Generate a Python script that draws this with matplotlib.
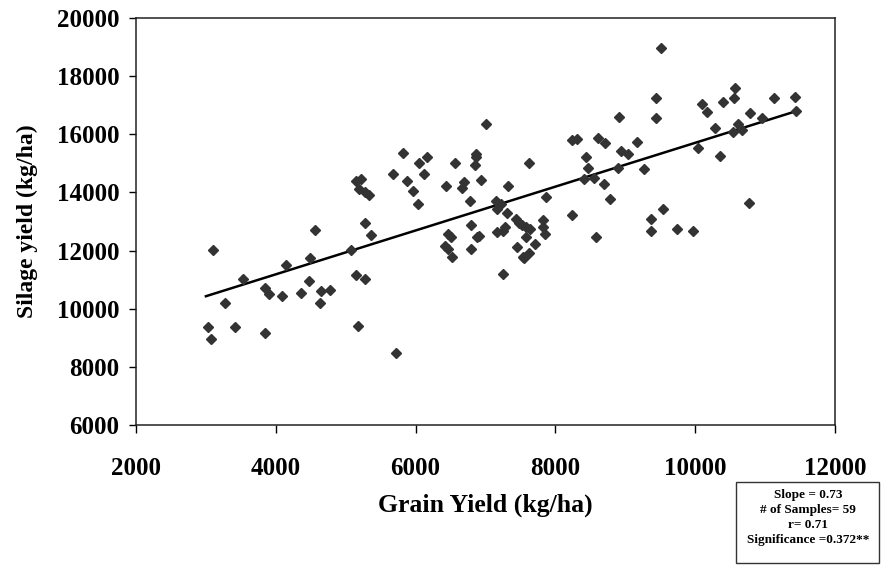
import matplotlib
matplotlib.use("Agg")
import matplotlib.pyplot as plt
from matplotlib.patches import Rectangle

plt.rcParams['font.family'] = ['Liberation Serif', 'DejaVu Serif']
plt.rcParams['font.weight'] = 'bold'

#### DATA
grain_yield = [
    3031, 3070, 3103, 3274, 3417, 3531, 3845, 3840, 3897, 4083,
    4144, 4354, 4477, 4496, 4563, 4625, 4653, 4772, 5072, 5147,
    5176, 5143, 5223, 5195, 5281, 5333, 5276, 5362, 5271,
    5676, 5823, 5876, 5956, 6033, 6051, 6127, 6161, 5719, 6441,
    6569, 6665, 6698, 6464, 6513, 6420, 6461, 6518, 6775, 6794,
    6789, 6860, 6865, 6855, 6936, 6883, 6900, 7012, 7317, 7150,
    7215, 7160, 7310, 7278, 7245, 7160, 7621, 7436, 7473, 7516,
    7573, 7635, 7576, 7446, 7712, 7616, 7555, 7540, 7253, 7868,
    7824, 7829, 7852, 8234, 8314, 8443, 8466, 8409, 8243, 8557,
    8614, 8709, 8690, 8786, 8578, 8908, 8942, 8890, 9037,
    9513, 9441, 9441, 9166, 9262, 9361, 9371, 9532, 9736, 9964,
    10041, 10104, 10164, 10284, 10403, 10359, 10564, 10559, 10612, 10545,
    10668, 10788, 10768, 10953, 11130, 11430, 11448,
]
silage_yield = [
    9360, 8958, 12019, 10207, 9360, 11011, 9174, 10712, 10495, 10437,
    11493, 10551, 10963, 11734, 12707, 10207, 10620, 10643, 12019, 11149,
    9394, 14403, 14462, 14128, 14004, 13911, 12958, 12525, 11011,
    14634, 15345, 14393, 14049, 13602, 15022, 14623, 15208, 8486, 14211,
    15012, 14152, 14369, 12559, 12456, 12167, 12064, 11768, 13716, 12869,
    12043, 15322, 15229, 14933, 14428, 12456, 12490, 16343, 14221, 13716,
    13602, 13419, 13303, 12823, 12685, 12628, 15012, 13096, 12938, 12879,
    12823, 12741, 12456, 12132, 12215, 11905, 11734, 11790, 11194, 13853,
    13051, 12823, 12559, 15803, 15838, 15208, 14850, 14472, 13223, 14507,
    15861, 15689, 14300, 13762, 12476, 16584, 15435, 14830, 15322,
    18979, 17258, 16569, 15734, 14816, 13074, 12685, 13441, 12754, 12685,
    15538, 17031, 16756, 16226, 17110, 15242, 17602, 17258, 16343, 16088,
    16147, 16722, 13647, 16569, 17258, 17293, 16801,
]

# linear trend line, end points
trend_x = [3000, 11450]
trend_y = [10430, 16800]

x_ticks = [2000, 4000, 6000, 8000, 10000, 12000]
y_ticks = [6000, 8000, 10000, 12000, 14000, 16000, 18000, 20000]

stats_lines = ["Slope = 0.73", "# of Samples= 59", "r= 0.71", "Significance =0.372**"]

#### PLOT
fig = plt.figure(figsize=(8.81, 5.66), dpi=100)
ax = fig.add_axes([0.1544, 0.2491, 0.7934, 0.7191])

ax.plot(grain_yield, silage_yield, linestyle='none', marker='D',
        markersize=5.3, color='#333333', zorder=3)
ax.plot(trend_x, trend_y, color='black', linewidth=1.8, zorder=2)

ax.set_xlim(2000, 12000)
ax.set_ylim(6000, 20000)
ax.set_xticks(x_ticks)
ax.set_yticks(y_ticks)
ax.tick_params(axis='x', direction='out', length=6, width=1, pad=17, labelsize=18)
ax.tick_params(axis='y', direction='out', length=5, width=1, pad=7, labelsize=18)
for spine in ax.spines.values():
    spine.set_linewidth(1.1)
    spine.set_color('#222222')

ax.set_xlabel("Grain Yield (kg/ha)", fontsize=18.5, fontweight='bold', va='center')
ax.xaxis.set_label_coords(0.5, -0.197)
ax.set_ylabel("Silage yield (kg/ha)", fontsize=17, fontweight='bold', va='center')
ax.yaxis.set_label_coords(-0.155, 0.5)

# statistics box
fig.add_artist(Rectangle((736 / 881, 1 - 563 / 566), 143 / 881, 81 / 566,
                         transform=fig.transFigure, fill=False,
                         edgecolor='#333333', linewidth=1))
for i, line in enumerate(stats_lines):
    fig.text(808 / 881, 1 - (495 + i * 15) / 566, line, ha='center', va='center',
             fontsize=9.5, fontweight='bold')

fig.savefig("out.png", dpi=100)
